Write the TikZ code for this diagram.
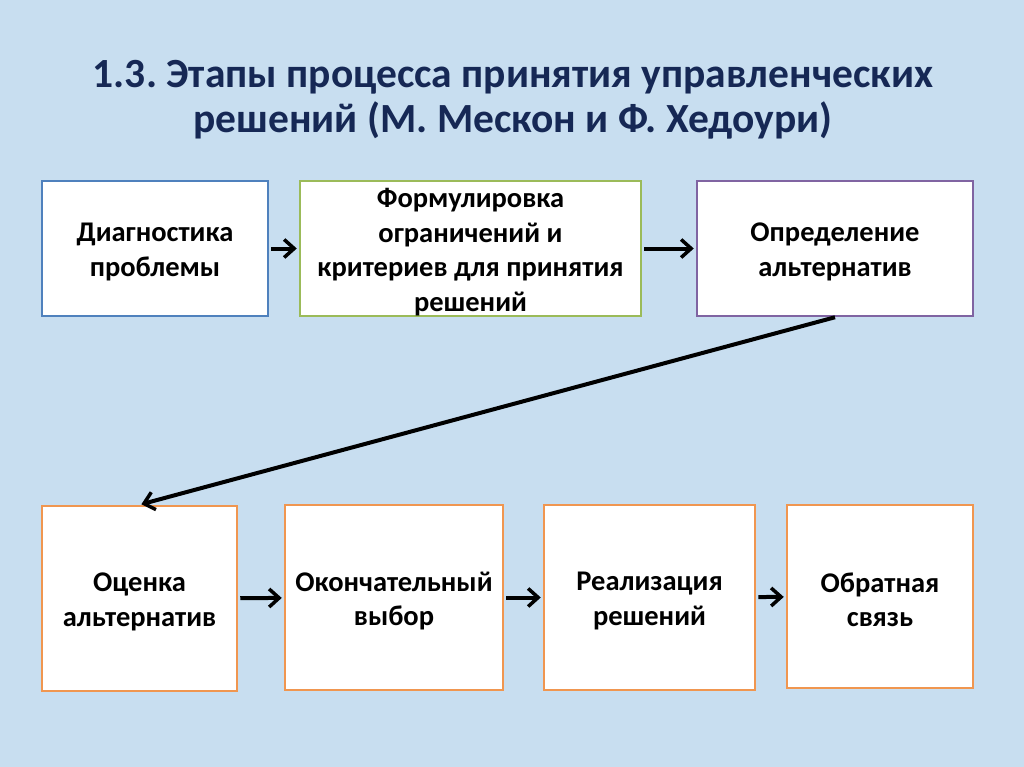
\documentclass[tikz,border=0pt]{standalone}
\usepackage{fontspec}
\setmainfont{Carlito}
\usetikzlibrary{arrows.meta}
\definecolor{bg}{RGB}{200,222,240}
\definecolor{titlec}{RGB}{22,40,85}
\definecolor{cblue}{RGB}{79,129,189}
\definecolor{cgreen}{RGB}{155,187,89}
\definecolor{cpurple}{RGB}{128,100,162}
\definecolor{corange}{RGB}{240,150,80}
\tikzset{
  stage/.style={draw, line width=2.5pt, fill=white, inner sep=0pt},
  stagetext/.style={align=center, inner sep=0pt, yshift=-3.5pt,
    font=\bfseries\fontsize{28.5}{34.5}\selectfont, text=black},
  flow/.style={line width=4pt, -{Straight Barb[length=10pt,width=18pt,line width=3.5pt]}, shorten <=2pt, shorten >=2pt}
}
\frenchspacing
\begin{document}
\begin{tikzpicture}[x=1pt,y=-1pt]
\fill[bg] (0,0) rectangle (1024,767);
\useasboundingbox (0,0) rectangle (1024,767);
\node[text=titlec, font=\bfseries\fontsize{41.5}{45}\selectfont, align=center] (title) at (513,100) {1.3. Этапы процесса принятия управленческих\\решений (М. Мескон и Ф. Хедоури)};
\node[stage, draw=cblue, minimum width=226pt, minimum height=135pt,
  label={[stagetext]center:{Диагностика\\проблемы}}] (b1) at (155,248.5) {};
\node[stage, draw=cgreen, minimum width=341pt, minimum height=135pt,
  label={[stagetext]center:{Формулировка\\ограничений и\\критериев для принятия\\решений}}] (b2) at (470.5,248.5) {};
\node[stage, draw=cpurple, minimum width=276pt, minimum height=135pt,
  label={[stagetext]center:{Определение\\альтернатив}}] (b3) at (835,248.5) {};
\node[stage, draw=corange, minimum width=195pt, minimum height=185pt,
  label={[stagetext]center:{Оценка\\альтернатив}}] (b4) at (139.5,598.5) {};
\node[stage, draw=corange, minimum width=218pt, minimum height=185pt,
  label={[stagetext]center:{Окончательный\\выбор}}] (b5) at (394,597.5) {};
\node[stage, draw=corange, minimum width=211pt, minimum height=185pt,
  label={[stagetext]center:{Реализация\\решений}}] (b6) at (649.5,597.5) {};
\node[stage, draw=corange, minimum width=186pt, minimum height=183pt,
  label={[stagetext]center:{Обратная\\связь}}] (b7) at (880,596.5) {};
\draw[flow] (b1) -- (b2);
\draw[flow] (b2) -- (b3);
\draw[flow, shorten <=0pt] (b3.south) -- (b4.north);
\draw[flow] (b4) -- (b5);
\draw[flow] (b5) -- (b6);
\draw[flow] (b6) -- (b7);
\end{tikzpicture}
\end{document}
